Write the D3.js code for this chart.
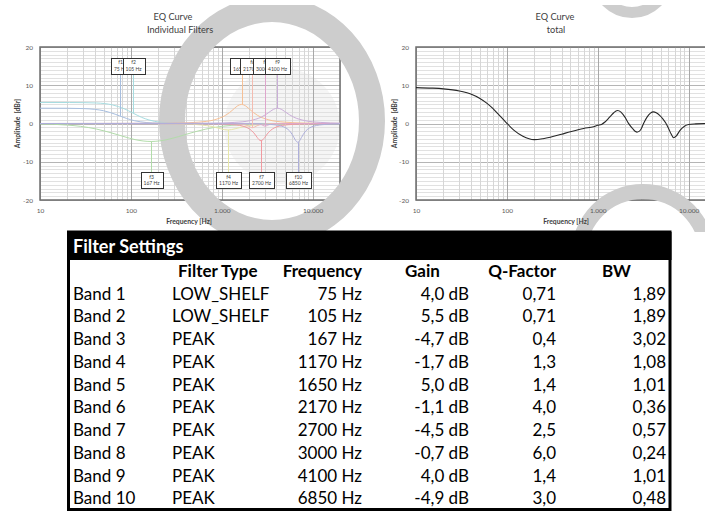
<!DOCTYPE html>
<html>
<head>
<meta charset="utf-8">
<script src="https://cdn.jsdelivr.net/npm/d3@7"></script>
<style>
  body { margin: 0; background: #fff; }
  svg { display: block; font-family: Lato, 'Open Sans', sans-serif; }
</style>
</head>
<body>
<div id="chart"></div>
<script>
// Filter settings (table values)
const bands = ['Band 1', 'Band 2', 'Band 3', 'Band 4', 'Band 5', 'Band 6', 'Band 7', 'Band 8', 'Band 9', 'Band 10']
const filterTypes = ['LOW_SHELF', 'LOW_SHELF', 'PEAK', 'PEAK', 'PEAK', 'PEAK', 'PEAK', 'PEAK', 'PEAK', 'PEAK']
const frequencies = [75, 105, 167, 1170, 1650, 2170, 2700, 3000, 4100, 6850]
const gains = [4.0, 5.5, -4.7, -1.7, 5.0, -1.1, -4.5, -0.7, 4.0, -4.9]
const qFactors = ['0,71', '0,71', '0,4', '1,3', '1,4', '4,0', '2,5', '6,0', '1,4', '3,0']
const bandwidths = ['1,89', '1,89', '3,02', '1,08', '1,01', '0,36', '0,57', '0,24', '1,01', '0,48']
const labelSide = ['top', 'top', 'bottom', 'bottom', 'top', 'top', 'bottom', 'top', 'top', 'bottom']

// Individual filter curves: [Hz, dB]
const curve1 = [[10, 4.0], [20, 3.98], [30, 3.9], [40, 3.7], [50, 3.34], [60, 2.83], [75, 2.0], [90, 1.31], [110, 0.72], [150, 0.24], [200, 0.08], [300, 0.01], [20000, 0]]
const curve2 = [[10, 5.5], [21, 5.49], [42, 5.36], [63, 4.85], [84, 3.88], [105, 2.75], [131, 1.62], [158, 0.93], [210, 0.33], [315, 0.07], [525, 0.01], [20000, 0]]
const curve3 = [[10, -0.11], [20, -0.41], [28, -0.75], [42, -1.46], [56, -2.2], [84, -3.43], [111, -4.21], [167, -4.7], [250, -4.21], [334, -3.43], [501, -2.2], [668, -1.46], [1002, -0.75], [1670, -0.29], [3340, -0.08], [6680, -0.02], [20000, 0]]
const curve4 = [[10, 0], [117, -0.01], [234, -0.04], [390, -0.13], [585, -0.36], [780, -0.78], [975, -1.38], [1170, -1.7], [1404, -1.38], [1755, -0.78], [2340, -0.36], [3510, -0.13], [5850, -0.04], [11700, -0.01], [20000, 0]]
const curve5 = [[10, 0], [165, 0.03], [330, 0.11], [550, 0.35], [825, 0.95], [1100, 2.13], [1222, 2.88], [1375, 3.93], [1500, 4.65], [1650, 5.0], [1815, 4.65], [1980, 3.93], [2228, 2.88], [2475, 2.13], [3300, 0.95], [4950, 0.35], [8250, 0.11], [16500, 0.03], [20000, 0.02]]
const curve6 = [[10, 0], [1085, -0.03], [1550, -0.13], [1808, -0.35], [1973, -0.7], [2067, -0.95], [2170, -1.1], [2279, -0.95], [2387, -0.7], [2604, -0.35], [3038, -0.13], [4340, -0.03], [20000, 0]]
const curve7 = [[10, 0], [540, -0.03], [900, -0.1], [1350, -0.31], [1800, -0.86], [2000, -1.37], [2250, -2.44], [2455, -3.64], [2571, -4.23], [2700, -4.5], [2835, -4.23], [2970, -3.64], [3240, -2.44], [3645, -1.37], [4050, -0.86], [5400, -0.31], [8100, -0.1], [13500, -0.03], [20000, 0]]
const curve8 = [[10, 0], [2000, -0.03], [2500, -0.12], [2727, -0.3], [2830, -0.47], [2913, -0.62], [3000, -0.7], [3090, -0.62], [3180, -0.47], [3300, -0.3], [3600, -0.12], [4500, -0.03], [20000, 0]]
const curve9 = [[10, 0], [820, 0.09], [1367, 0.28], [2050, 0.75], [2733, 1.7], [3037, 2.31], [3417, 3.15], [3727, 3.73], [4100, 4.0], [4510, 3.73], [4920, 3.15], [5535, 2.31], [6150, 1.7], [8200, 0.75], [12300, 0.28], [20000, 0.09]]
const curve10 = [[10, 0], [2283, -0.08], [3425, -0.24], [4567, -0.7], [5074, -1.15], [5708, -2.22], [6227, -3.66], [6524, -4.49], [6850, -4.9], [7193, -4.49], [7535, -3.66], [8220, -2.22], [9248, -1.15], [10275, -0.7], [13700, -0.24], [20000, -0.08]]
const curves = [curve1, curve2, curve3, curve4, curve5, curve6, curve7, curve8, curve9, curve10]

// Total EQ curve: [Hz, dB]
const totalCurve = [[10, 9.39], [15, 9.25], [20, 9.06], [30, 8.5], [40, 7.7], [50, 6.61], [60, 5.33], [70, 3.95], [80, 2.49], [90, 1.23], [100, 0.06], [120, -1.79], [150, -3.33], [200, -4.22], [250, -3.97], [300, -3.6], [400, -2.8], [500, -2.15], [700, -1.29], [900, -0.83], [1000, -0.47], [1100, -0.23], [1200, 0.39], [1300, 1.23], [1400, 2.06], [1500, 2.82], [1650, 3.39], [1800, 2.99], [2000, 1.59], [2170, 0.09], [2400, -1.23], [2600, -2.1], [2700, -2.25], [2850, -2.06], [3000, -1.42], [3200, 0.07], [3500, 1.73], [3800, 2.7], [4100, 3.03], [4400, 2.81], [4800, 2.14], [5200, 1.23], [5600, 0.12], [6000, -1.25], [6400, -2.69], [6850, -3.74], [7300, -3.27], [8000, -1.86], [9000, -0.72], [10000, -0.28], [12000, -0.11], [15000, -0.01], [20000, 0]]

// Axis ticks
const yTicks = [-20, -10, 0, 10, 20]
const xTicks = [10, 100, 1000, 10000]

const bandColors = ['#a7bedf', '#a6dce0', '#b2dcaa', '#e6e6a8', '#f6c096', '#f4bcb0', '#f19aa0', '#dea6cc', '#caaed8', '#aeafdb']

const w = 705
const h = 511

const svg = d3.select('#chart').append('svg')
  .attr('width', w)
  .attr('height', h)

svg.append('defs').append('clipPath')
  .attr('id', 'wm-clip')
  .append('rect')
  .attr('x', 0).attr('y', 5).attr('width', w).attr('height', 227)

const y = d3.scaleLinear().domain([-20, 20]).range([200, 47])
const xLeft = d3.scaleLog().domain([10, 20000]).range([40, 340])
const xRight = d3.scaleLog().domain([10, 20000]).range([416, 716])

const line = x => d3.line()
  .x(d => x(d[0]))
  .y(d => y(d[1]))
  .curve(d3.curveMonotoneX)

// faint disc behind the left plot
svg.append('circle')
  .attr('cx', 282).attr('cy', 126).attr('r', 58)
  .attr('fill', '#f5f5f5')

// Grid for a plot
function drawGrid(x, id) {
  const g = svg.append('g').attr('id', id)
  const [x0, x1] = x.range()
  const right = Math.min(x1, w)

  d3.range(-20, 21, 1).forEach(v => {
    const yy = Math.round(y(v)) + 0.5
    g.append('line')
      .attr('x1', x0).attr('x2', right)
      .attr('y1', yy).attr('y2', yy)
      .attr('stroke', v % 10 === 0 ? '#b5b5b5' : '#e1e1e1')
      .attr('stroke-width', 1)
  })

  const minor = []
  xTicks.forEach(dec => d3.range(1, 10).forEach(k => {
    if (k * dec <= 20000) minor.push(k * dec)
  }))
  minor.forEach(f => {
    const xx = Math.round(x(f)) + 0.5
    if (xx > w) return
    g.append('line')
      .attr('x1', xx).attr('x2', xx)
      .attr('y1', y(20)).attr('y2', y(-20))
      .attr('stroke', xTicks.includes(f) ? '#a8a8a8' : '#d6d6d6')
      .attr('stroke-width', 1)
  })

  g.append('rect')
    .attr('x', x0).attr('y', y(20))
    .attr('width', x1 - x0).attr('height', y(-20) - y(20))
    .attr('fill', 'none')
    .attr('stroke', '#6e6e6e')
    .attr('stroke-width', 1.5)
}

drawGrid(xLeft, 'grid-left')
drawGrid(xRight, 'grid-right')

// Watermark rings
function ringPath(cx, cy, rxo, ryo, rxi, ryi) {
  const e = (rx, ry) => `M${cx - rx},${cy}a${rx},${ry} 0 1,0 ${2 * rx},0a${rx},${ry} 0 1,0 ${-2 * rx},0Z`
  return e(rxo, ryo) + e(rxi, ryi)
}

const wm = svg.append('g').attr('clip-path', 'url(#wm-clip)')
wm.append('path')
  .attr('d', ringPath(272, 121, 113, 125, 87, 99))
  .attr('fill', '#cdcdcd').attr('fill-rule', 'evenodd')
wm.append('path')
  .attr('d', ringPath(632, -23, 41, 41, 30, 30))
  .attr('fill', '#cdcdcd').attr('fill-rule', 'evenodd')
wm.append('path')
  .attr('d', ringPath(643, 256, 72, 72, 57, 57))
  .attr('fill', '#cdcdcd').attr('fill-rule', 'evenodd')

// Axes
function drawAxes(x, yLabelX, titleLines) {
  const [x0, x1] = x.range()

  const yAxis = svg.append('g')
    .attr('transform', `translate(${x0}, 0)`)
    .call(d3.axisLeft(y).tickValues(yTicks).tickSize(0).tickPadding(7).tickFormat(d => String(d)))
  yAxis.select('.domain').remove()
  yAxis.selectAll('text')
    .attr('font-family', 'Lato, sans-serif')
    .attr('font-size', 6.5)
    .attr('fill', '#595959')

  const xAxis = svg.append('g')
    .attr('transform', `translate(0, ${y(-20)})`)
    .call(d3.axisBottom(x).tickValues(xTicks).tickSize(0).tickPadding(8)
      .tickFormat(d => d3.format(',')(d).replace(/,/g, '.')))
  xAxis.select('.domain').remove()
  xAxis.selectAll('text')
    .attr('font-family', 'Lato, sans-serif')
    .attr('font-size', 6.5)
    .attr('fill', '#595959')

  svg.append('text')
    .attr('transform', `translate(${yLabelX}, ${y(0)}) rotate(-90)`)
    .attr('text-anchor', 'middle')
    .attr('font-size', 6.8)
    .attr('font-weight', 'bold')
    .attr('fill', '#404040')
    .style('white-space', 'pre')
    .text('Amplitude  [dBr]')

  svg.append('text')
    .attr('x', titleLines.freqX)
    .attr('y', 224)
    .attr('text-anchor', 'middle')
    .attr('font-size', 6.8)
    .attr('font-weight', 'bold')
    .attr('fill', '#404040')
    .text('Frequency [Hz]')

  titleLines.lines.forEach((t, i) => {
    svg.append('text')
      .attr('x', t.x)
      .attr('y', 20 + i * 13)
      .attr('text-anchor', 'middle')
      .attr('font-size', 9.2)
      .attr('fill', '#404040')
      .text(t.text)
  })
}

drawAxes(xLeft, 20, { freqX: 189, lines: [{ text: 'EQ Curve', x: 173 }, { text: 'Individual  Filters', x: 180 }] })
drawAxes(xRight, 397, { freqX: 566, lines: [{ text: 'EQ Curve', x: 555 }, { text: 'total', x: 556 }] })

// Individual filter curves
const curveLayer = svg.append('g')
curves.forEach((c, i) => {
  curveLayer.append('path')
    .datum(c)
    .attr('fill', 'none')
    .attr('stroke', bandColors[i])
    .attr('stroke-width', 1)
    .attr('d', line(xLeft))
})

// Drop lines and label boxes
frequencies.forEach((f0, i) => {
  const pt = curves[i].find(p => p[0] === f0)
  const top = labelSide[i] === 'top'
  const boxTop = top ? y(17.2) : y(-12.8)
  const boxH = 16
  const xx = Math.round(xLeft(f0)) + 0.5

  svg.append('line')
    .attr('x1', xx).attr('x2', xx)
    .attr('y1', y(pt[1]))
    .attr('y2', top ? boxTop + boxH : boxTop)
    .attr('stroke', bandColors[i])
    .attr('stroke-width', 1)

  const g = svg.append('g')
  const rect = g.append('rect')
  const t1 = g.append('text')
    .attr('x', xx).attr('y', boxTop + 6.5)
    .attr('text-anchor', 'middle')
    .attr('font-size', 5)
    .attr('fill', '#404040')
    .text('f' + (i + 1))
  const t2 = g.append('text')
    .attr('x', xx).attr('y', boxTop + 13)
    .attr('text-anchor', 'middle')
    .attr('font-size', 5)
    .attr('fill', '#404040')
    .text(f0 + ' Hz')
  const tw = Math.max(t1.node().getComputedTextLength(), t2.node().getComputedTextLength())
  const bw = Math.round(tw + 6)
  rect.attr('x', Math.round(xx - bw / 2) + 0.5)
    .attr('y', Math.round(boxTop) + 0.5)
    .attr('width', bw)
    .attr('height', boxH)
    .attr('fill', '#fff')
    .attr('stroke', '#333')
    .attr('stroke-width', 1)
})

// Total curve
svg.append('path')
  .datum(totalCurve)
  .attr('fill', 'none')
  .attr('stroke', '#262626')
  .attr('stroke-width', 1.1)
  .attr('d', line(xRight))

// Filter settings table
const table = svg.append('g').attr('id', 'table')
const tLeft = 68.5
const tRight = 670
const tTop = 232
const tBottom = 509.5

table.append('rect')
  .attr('x', tLeft).attr('y', tTop)
  .attr('width', tRight - tLeft).attr('height', tBottom - tTop)
  .attr('fill', '#fff')
  .attr('stroke', '#000')
  .attr('stroke-width', 3)

table.append('rect')
  .attr('x', tLeft - 1.5).attr('y', tTop)
  .attr('width', tRight - tLeft + 3).attr('height', 28)
  .attr('fill', '#000')

table.append('text')
  .attr('x', 73).attr('y', 252.5)
  .attr('font-size', 18)
  .attr('font-weight', 'bold')
  .attr('fill', '#fff')
  .text('Filter Settings')

const headY = 277
const headers = [
  { text: 'Filter Type', x: 178, anchor: 'start' },
  { text: 'Frequency', x: 362, anchor: 'end' },
  { text: 'Gain', x: 405, anchor: 'start' },
  { text: 'Q-Factor', x: 556, anchor: 'end' },
  { text: 'BW', x: 602, anchor: 'start' }
]
headers.forEach(hd => {
  table.append('text')
    .attr('x', hd.x).attr('y', headY)
    .attr('text-anchor', hd.anchor)
    .attr('font-size', 17)
    .attr('font-weight', 'bold')
    .attr('fill', '#000')
    .text(hd.text)
})

const rowY = i => 299.5 + i * 22.75
const cols = [
  { x: 73, anchor: 'start', val: i => bands[i] },
  { x: 172, anchor: 'start', val: i => filterTypes[i] },
  { x: 362, anchor: 'end', val: i => frequencies[i] + ' Hz' },
  { x: 469, anchor: 'end', val: i => gains[i].toFixed(1).replace('.', ',') + ' dB' },
  { x: 556, anchor: 'end', val: i => qFactors[i] },
  { x: 666, anchor: 'end', val: i => bandwidths[i] }
]
bands.forEach((b, i) => {
  cols.forEach(c => {
    table.append('text')
      .attr('x', c.x).attr('y', rowY(i))
      .attr('text-anchor', c.anchor)
      .attr('font-size', 17)
      .attr('fill', '#000')
      .text(c.val(i))
  })
})
</script>
</body>
</html>
